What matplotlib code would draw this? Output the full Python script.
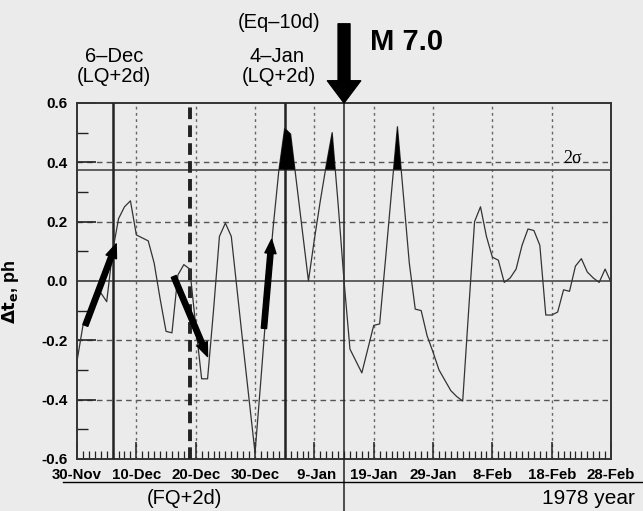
import numpy as np
import matplotlib.pyplot as plt
from matplotlib.lines import Line2D
from matplotlib.ticker import MultipleLocator, FixedLocator, FixedFormatter

plt.rcParams['font.family'] = ['Liberation Sans', 'DejaVu Sans']
plt.rcParams['axes.unicode_minus'] = False

# days counted from 30-Nov-1977
days = np.arange(91)
dte = [-0.27, -0.15, -0.12, -0.08, -0.04, -0.07, 0.10, 0.21, 0.25, 0.27,
       0.155, 0.145, 0.135, 0.06, -0.06, -0.17, -0.175, 0.02, 0.055, 0.04,
       -0.15, -0.33, -0.33, -0.10, 0.15, 0.195, 0.15, -0.035, -0.22, -0.40,
       -0.58, -0.33, -0.07, 0.17, 0.37, 0.515, 0.495, 0.33, 0.165, 0.0,
       0.14, 0.27, 0.39, 0.50, 0.26, 0.0, -0.23, -0.27, -0.31, -0.23,
       -0.15, -0.145, 0.075, 0.30, 0.52, 0.29, 0.06, -0.095, -0.10, -0.185,
       -0.24, -0.30, -0.335, -0.37, -0.39, -0.405, -0.10, 0.20, 0.25, 0.15,
       0.08, 0.07, -0.005, 0.01, 0.04, 0.12, 0.175, 0.17, 0.12, -0.115,
       -0.115, -0.105, -0.03, -0.035, 0.05, 0.075, 0.03, 0.01, -0.005, 0.04,
       -0.005]
dte = np.array(dte)

sigma2 = 0.375
lq_days = [6, 35]      # 6-Dec, 4-Jan
fq_day = 19
eq_day = 45            # 14-Jan, M 7.0

xtick_pos = [0, 10, 20, 30, 40, 50, 60, 70, 80, 90]
xtick_lab = ['30-Nov', '10-Dec', '20-Dec', '30-Dec', ' 9-Jan', '19-Jan',
             '29-Jan', '8-Feb', '18-Feb', '28-Feb']
ytick_pos = [-0.6, -0.4, -0.2, 0.0, 0.2, 0.4, 0.6]
ytick_lab = ['-0.6', '-0.4', '-0.2', '0.0', '0.2', '0.4', '0.6']

# hand-drawn arrows: (tail, tip) in (day, value)
trend_arrows = [((1.4, -0.15), (6.6, 0.125)),
                ((16.3, 0.015), (22.0, -0.255)),
                ((31.5, -0.16), (32.8, 0.14))]

bg = '#ebebeb'
ink = '#222222'

fig = plt.figure(figsize=(6.43, 5.11), dpi=100, facecolor=bg)
ax = fig.add_axes([0.1198, 0.102, 0.8305, 0.6965])
ax.set_facecolor(bg)

# grid
for v in [-0.4, -0.2, 0.2, 0.4]:
    ax.axhline(v, color='#555555', lw=1.0, ls=(0, (4, 3)), zorder=1)
for d in range(10, 90, 10):
    ax.axvline(d, color='#666666', lw=1.0, ls=(0, (2, 2.5)), zorder=1)
ax.axhline(0, color='#555555', lw=1.3, zorder=2)
ax.axhline(sigma2, color='#555555', lw=1.3, zorder=2)

# event lines
for d in lq_days:
    ax.axvline(d, color=ink, lw=1.8, zorder=3)
ax.axvline(fq_day, color=ink, lw=2.8, ls=(0, (3, 1.6)), zorder=3)
ax.axvline(eq_day, ymin=-0.16, ymax=1.0, color=ink, lw=1.1, clip_on=False, zorder=3)

# curve and 2-sigma exceedance
ax.plot(days, dte, color='#333333', lw=0.9, zorder=4)
ax.fill_between(days, dte, sigma2, where=dte > sigma2, interpolate=True,
                color='black', lw=0, zorder=4)

for tail, tip in trend_arrows:
    ax.annotate('', xy=tip, xytext=tail,
                arrowprops=dict(arrowstyle='simple,head_length=1.0,head_width=0.8,tail_width=0.38',
                                mutation_scale=10, color='black', shrinkA=0, shrinkB=0),
                zorder=5)

ax.set_xlim(0, 90)
ax.set_ylim(-0.6, 0.6)
ax.xaxis.set_major_locator(FixedLocator(xtick_pos))
ax.xaxis.set_major_formatter(FixedFormatter(xtick_lab))
ax.xaxis.set_minor_locator(MultipleLocator(1))
ax.yaxis.set_major_locator(FixedLocator(ytick_pos))
ax.yaxis.set_major_formatter(FixedFormatter(ytick_lab))
ax.yaxis.set_minor_locator(MultipleLocator(0.1))
ax.tick_params(axis='x', which='major', direction='in', length=12, width=1.1,
               pad=6.5, labelsize=10.8, color=ink)
ax.tick_params(axis='x', which='minor', direction='in', length=6, width=0.9, color=ink)
ax.tick_params(axis='y', which='major', direction='in', length=14, width=1.2,
               pad=7, labelsize=11, color=ink)
ax.tick_params(axis='y', which='minor', direction='in', length=8, width=1.0, color=ink)
for lab in ax.get_xticklabels() + ax.get_yticklabels():
    lab.set_fontweight('bold')
for s in ax.spines.values():
    s.set_linewidth(1.4)
    s.set_color('#333333')

ax.set_ylabel(r'$\mathbf{\Delta t_e}$, ph', fontsize=13, fontweight='bold')
ax.yaxis.set_label_coords(-0.105, 0.47)

ax.text(82.0, 0.383, '2σ', fontsize=13, family=['Liberation Serif', 'DejaVu Serif'],
        ha='left', va='bottom')

# earthquake arrow
ax.annotate('', xy=(eq_day, 0.6), xytext=(0, 57), textcoords='offset points',
            arrowprops=dict(arrowstyle='simple,head_length=1.6,head_width=2.4,tail_width=0.86',
                            mutation_scale=10, color='black', shrinkA=0, shrinkB=0),
            annotation_clip=False)

W, H = 643.0, 511.0
def ftext(x, y, s, **kw):
    fig.text(x / W, 1 - y / H, s, ha='center', va='center', **kw)

ftext(114, 57, '6–Dec', fontsize=14.5)
ftext(114, 77, '(LQ+2d)', fontsize=14.5)
ftext(279, 22, '(Eq–10d)', fontsize=14.5)
ftext(277, 57, '4–Jan', fontsize=14.5)
ftext(279, 77, '(LQ+2d)', fontsize=14.5)
fig.text(370 / W, 1 - 42 / H, 'M 7.0', fontsize=21, fontweight='bold', ha='left', va='center')
ftext(184, 498, '(FQ+2d)', fontsize=14.5)
ftext(588, 498, '1978 year', fontsize=15)

fig.add_artist(Line2D([63 / W, 1.0], [1 - 482 / H] * 2, transform=fig.transFigure,
                      color='black', lw=1.0))

fig.savefig('out.png', dpi=100, facecolor=bg)
